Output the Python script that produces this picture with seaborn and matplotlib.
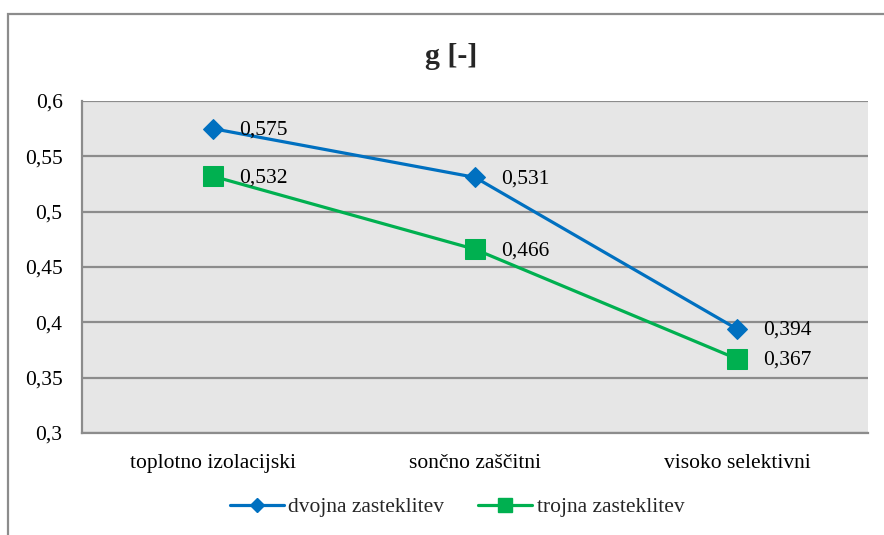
import matplotlib
matplotlib.use("Agg")
import matplotlib.pyplot as plt
import seaborn as sns
import pandas as pd
from matplotlib.patches import Rectangle
from matplotlib.lines import Line2D
from matplotlib.ticker import FixedLocator

categories = ["toplotno izolacijski", "sončno zaščitni", "visoko selektivni"]
series_names = ["dvojna zasteklitev", "trojna zasteklitev"]
dvojna = [0.575, 0.531, 0.394]
trojna = [0.532, 0.466, 0.367]
y_ticks = [0.3, 0.35, 0.4, 0.45, 0.5, 0.55, 0.6]
y_tick_labels = ["0,3", "0,35", "0,4", "0,45", "0,5", "0,55", "0,6"]
title = "g [-]"

colors = {"dvojna zasteklitev": "#0070C0", "trojna zasteklitev": "#00B050"}
markers = {"dvojna zasteklitev": "D", "trojna zasteklitev": "s"}
msizes = {"dvojna zasteklitev": 10.5, "trojna zasteklitev": 14}

df = pd.DataFrame({
    "cat": categories * 2,
    "x": list(range(len(categories))) * 2,
    "val": dvojna + trojna,
    "series": [series_names[0]] * 3 + [series_names[1]] * 3,
})

sns.set_style("white")
plt.rcParams["font.family"] = ["Liberation Serif", "DejaVu Serif"]
FAM = ["Liberation Serif", "DejaVu Serif"]
FS = 15.5

fig = plt.figure(figsize=(8.84, 5.35), dpi=100)
ax = fig.add_axes([82 / 884, 1 - 433 / 535, (868 - 82) / 884, (433 - 101) / 535])
ax.set_facecolor("#E6E6E6")

for name in series_names:
    sub = df[df["series"] == name]
    sns.lineplot(data=sub, x="x", y="val", ax=ax, color=colors[name], linewidth=2.3,
                 marker=markers[name], markersize=msizes[name], markeredgecolor=colors[name],
                 legend=False)
    for xv, yv in zip(sub["x"], sub["val"]):
        ax.annotate(f"{yv:.3f}".replace(".", ","), (xv, yv), xytext=(19, -1),
                    textcoords="offset points", ha="left", va="center", fontsize=FS,
                    family=FAM, color="black")

ax.set_xlim(-0.5, 2.5)
ax.set_ylim(0.3, 0.6)
ax.yaxis.set_major_locator(FixedLocator(y_ticks))
ax.set_yticklabels(y_tick_labels, family=FAM, fontsize=FS)
ax.set_xticks(range(len(categories)))
ax.set_xticklabels(categories, family=FAM, fontsize=FS)
ax.tick_params(axis="both", length=0, colors="black")
ax.tick_params(axis="y", pad=14)
ax.tick_params(axis="x", pad=15)
ax.grid(axis="y", color="#8C8C8C", linewidth=1.6)
ax.set_axisbelow(True)
ax.set_xlabel("")
ax.set_ylabel("")
for s in ["top", "right"]:
    ax.spines[s].set_visible(False)
for s in ["left", "bottom"]:
    ax.spines[s].set_color("#8C8C8C")
    ax.spines[s].set_linewidth(1.6)

fig.text(451 / 884, 1 - 56 / 535, title, ha="center", va="center", fontsize=21.5,
         fontweight="bold", family=FAM)

handles = [Line2D([0], [0], color=colors[n], marker=markers[n], linewidth=2.3,
                  markersize=msizes[n] * 0.72, markeredgecolor=colors[n]) for n in series_names]
fig.legend(handles, series_names, loc="center", bbox_to_anchor=(457 / 884, 1 - 507 / 535),
           ncol=2, frameon=False, prop={"family": FAM, "size": FS}, handlelength=2.5,
           handletextpad=0.2, columnspacing=1.6)

fig.patches.append(Rectangle((8 / 884, -0.05), 1.2, 1 - 14 / 535 + 0.05,
                             transform=fig.transFigure, fill=False,
                             edgecolor="#8C8C8C", linewidth=1.6, zorder=-1))

fig.savefig("out.png", dpi=100)
